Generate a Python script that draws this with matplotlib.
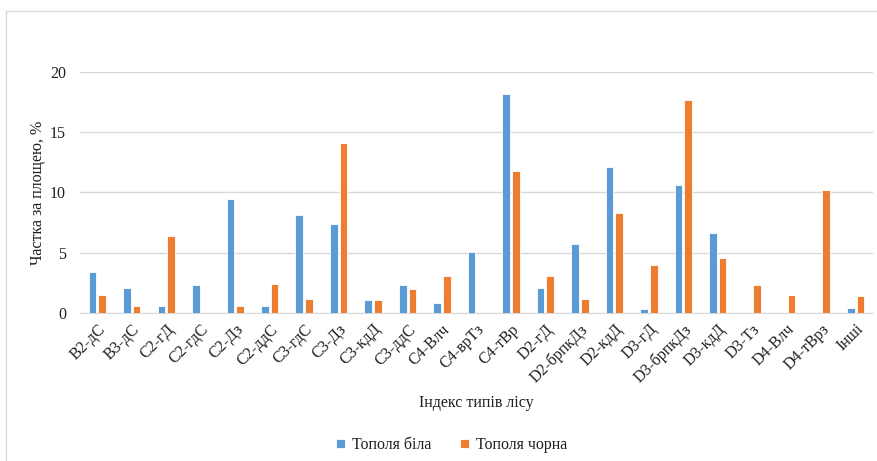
import matplotlib
matplotlib.use("Agg")
import matplotlib.pyplot as plt
import numpy as np
from matplotlib.lines import Line2D

categories = ["В2-дС", "В3-дС", "С2-гД", "С2-гдС", "С2-Дз", "С2-ддС", "С3-гдС", "С3-Дз",
              "С3-кдД", "С3-ддС", "С4-Влч", "С4-врТз", "С4-тВр", "D2-гД", "D2-брпкДз",
              "D2-кдД", "D3-гД", "D3-брпкДз", "D3-кдД", "D3-Тз", "D4-Влч", "D4-тВрз", "Інші"]
white_poplar = [3.4, 2.1, 0.6, 2.3, 9.5, 0.6, 8.1, 7.4, 1.1, 2.3, 0.8, 5.1, 18.2, 2.1, 5.7,
                12.1, 0.3, 10.6, 6.6, 0, 0, 0, 0.4]
black_poplar = [1.5, 0.6, 6.4, 0, 0.6, 2.4, 1.2, 14.1, 1.1, 2.0, 3.1, 0, 11.8, 3.1, 1.2,
                8.3, 4.0, 17.7, 4.6, 2.3, 1.5, 10.2, 1.4]
series_names = ["Тополя біла", "Тополя чорна"]
y_ticks = [0, 5, 10, 15, 20]

BLUE = "#5B9BD5"
ORANGE = "#ED7D31"
TEXT = "#1f1f1f"
SERIF = ["Liberation Serif", "DejaVu Serif"]

W, H = 877, 461
fig = plt.figure(figsize=(W / 100, H / 100), dpi=100)

# chart-area frame (top and left edges)
fig.add_artist(Line2D([6 / W, 1.0], [1 - 11 / H, 1 - 11 / H], transform=fig.transFigure,
                      color="#d9d9d9", linewidth=1.0))
fig.add_artist(Line2D([6 / W, 6 / W], [0.0, 1 - 11 / H], transform=fig.transFigure,
                      color="#d9d9d9", linewidth=1.0))

ax = fig.add_axes([80 / W, 1 - 313 / H, 793 / W, 241 / H])

x = np.arange(len(categories))
w = 0.22
ax.bar(x - 0.14, white_poplar, width=w, color=BLUE, edgecolor="white", linewidth=0.6,
       label=series_names[0], zorder=3)
ax.bar(x + 0.14, black_poplar, width=w, color=ORANGE, edgecolor="white", linewidth=0.6,
       label=series_names[1], zorder=3)

ax.set_xlim(-0.5, len(categories) - 0.5)
ax.set_ylim(0, 20)
ax.set_yticks(y_ticks)
ax.set_yticklabels([str(t) for t in y_ticks], fontsize=11.5, color=TEXT, family=SERIF)
ax.grid(axis="y", color="#d9d9d9", linewidth=1, zorder=0)
for s in ["top", "right", "left"]:
    ax.spines[s].set_visible(False)
ax.spines["bottom"].set_color("#d9d9d9")
ax.tick_params(axis="both", length=0)
ax.tick_params(axis="y", pad=10)

ax.set_xticks(x)
ax.set_xticklabels(categories, rotation=45, ha="right", rotation_mode="anchor",
                   fontsize=11.5, family=SERIF, color=TEXT)
ax.tick_params(axis="x", pad=6)

ax.set_ylabel("Частка за площею, %", family=SERIF, fontsize=11.5, color=TEXT)
ax.yaxis.set_label_coords((46 - 80) / 793, 0.5)
fig.text(476 / W, 1 - 403 / H, "Індекс типів лісу", family=SERIF, fontsize=11.5,
         color=TEXT, ha="center", va="center")

leg = fig.legend(loc="center", bbox_to_anchor=(452 / W, 1 - 445 / H), ncol=2, frameon=False,
                 prop={"family": SERIF, "size": 11.5}, handlelength=0.55, handleheight=0.55,
                 handletextpad=0.45, columnspacing=1.8)
for t in leg.get_texts():
    t.set_color(TEXT)

fig.savefig("out.png", dpi=100, facecolor="white")
